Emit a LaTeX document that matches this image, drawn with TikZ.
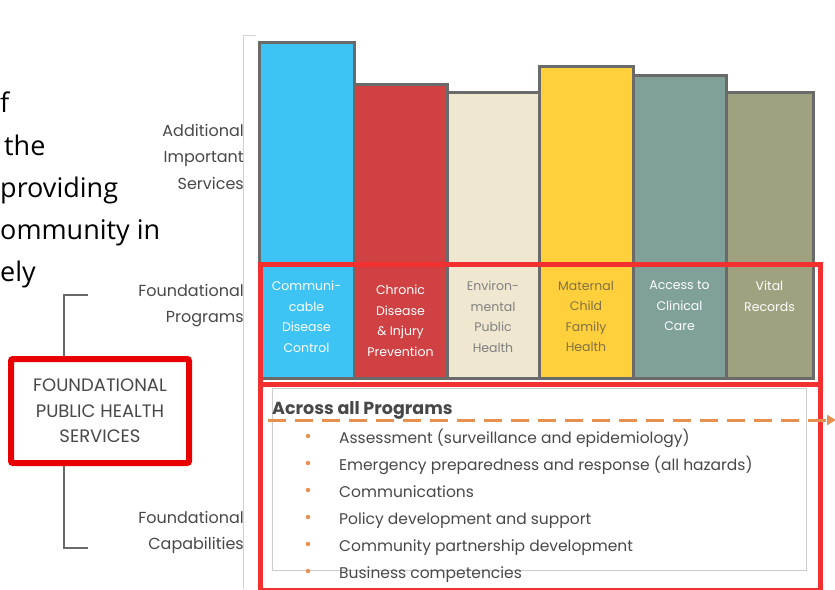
\documentclass[tikz,border=0pt]{standalone}
\usepackage{fontspec}
\setmainfont{Poppins}
\newfontfamily\parafont{Open Sans}
\usetikzlibrary{arrows.meta}

\definecolor{commblue}{HTML}{3EC4F4}
\definecolor{chronred}{HTML}{D04143}
\definecolor{envbeige}{HTML}{F0E7D1}
\definecolor{matyellow}{HTML}{FFD03C}
\definecolor{clinteal}{HTML}{80A199}
\definecolor{vitolive}{HTML}{A0A27F}
\definecolor{barline}{HTML}{6A6A6A}
\definecolor{framered}{HTML}{F23030}
\definecolor{boxred}{HTML}{E80000}
\definecolor{dashorange}{HTML}{E8904F}
\definecolor{labelgray}{HTML}{484848}

\begin{document}
\begin{tikzpicture}[x=1pt,y=-1pt,
	bar/.style={draw=barline,line width=3pt,inner sep=0,outer sep=0,anchor=north west},
	barlabel/.style={anchor=north,inner sep=0,align=center,font=\fontsize{12.5}{20.5}\selectfont},
	sidelabel/.style={anchor=north east,inner sep=0,align=right,text=labelgray,font=\fontsize{16}{26.5}\selectfont},
	item/.style={anchor=base west,inner sep=0,text=labelgray,font=\fontsize{15.5}{18}\selectfont},
	para/.style={anchor=base west,inner sep=0,font=\parafont\fontsize{27}{30}\selectfont},
	redframe/.style={draw=framered,line width=5pt,inner sep=0,anchor=north west},
	dot/.style={circle,fill=dashorange,inner sep=0,minimum size=4.5pt}]
	\useasboundingbox (0,0) rectangle (835,589);
	\draw[gray!35,line width=1pt] (256,35) -- (243,35) -- (243,589);
	\node[para] (p1) at (0,112) {f};
	\node[para] (p2) at (4,155) {the};
	\node[para] (p3) at (0,197) {providing};
	\node[para] (p4) at (0,239) {ommunity in};
	\node[para] (p5) at (0,281) {ely};
	\node[bar,fill=commblue,minimum width=95pt,minimum height=336pt] (cd) at (259,42) {};
	\node[bar,fill=chronred,minimum width=93pt,minimum height=294pt] (ch) at (354,84) {};
	\node[bar,fill=envbeige,minimum width=92pt,minimum height=286pt] (eh) at (447,92) {};
	\node[bar,fill=matyellow,minimum width=94pt,minimum height=312pt] (mh) at (539,66) {};
	\node[bar,fill=clinteal,minimum width=93pt,minimum height=303pt] (cc) at (633,75) {};
	\node[bar,fill=vitolive,minimum width=87pt,minimum height=286pt] (vr) at (726,92) {};
	\node[barlabel,text=white] (cdt) at ([yshift=97pt]cd.south) {Communi-\\cable\\Disease\\Control};
	\node[barlabel,text=white] (cht) at ([yshift=93pt]ch.south) {Chronic\\Disease\\\& Injury\\Prevention};
	\node[barlabel,text=gray] (eht) at ([yshift=97pt]eh.south) {Environ-\\mental\\Public\\Health};
	\node[barlabel,text=black!50!matyellow!60!gray] (mht) at ([yshift=97pt]mh.south) {Maternal\\Child\\Family\\Health};
	\node[barlabel,text=white] (cct) at ([yshift=97pt]cc.south) {Access to\\Clinical\\Care};
	\node[barlabel,text=white] (vrt) at ([yshift=97pt]vr.south) {Vital\\Records};
	\draw[barline,line width=2pt] (cd.south west) -- (vr.south east);
	\node[draw=gray!40,fill=white,inner sep=0,anchor=north west,minimum width=534pt,minimum height=182pt] (capbox) at (272,388) {};
	\node[redframe,minimum width=560pt,minimum height=120pt] (progframe) at (258,262) {};
	\node[redframe,minimum width=560pt,minimum height=206pt] (capframe) at (258,382) {};
	\node[anchor=base west,inner sep=0,text=labelgray,font=\bfseries\fontsize{17.5}{19}\selectfont] (across) at (272,414) {Across all Programs};
	\coordinate (dstart) at (268,420);
	\coordinate (dend) at (836,420);
	\draw[dashorange,line width=3pt,dash pattern=on 18pt off 9pt,-{Triangle[length=9pt,width=10pt]}] (dstart) -- (dend);
	\node[item] (c1) at (339,443) {Assessment (surveillance and epidemiology)};
	\node[item] (c2) at (339,470) {Emergency preparedness and response (all hazards)};
	\node[item] (c3) at (339,497) {Communications};
	\node[item] (c4) at (339,524) {Policy development and support};
	\node[item] (c5) at (339,551) {Community partnership development};
	\node[item] (c6) at (339,578) {Business competencies};
	\node[dot] (d1) at (308,436) {};
	\node[dot] (d2) at (308,463) {};
	\node[dot] (d3) at (308,490) {};
	\node[dot] (d4) at (308,517) {};
	\node[dot] (d5) at (308,544) {};
	\node[dot] (d6) at (308,571) {};
	\node[sidelabel] (ais) at (244,124) {Additional\\Important\\Services};
	\node[sidelabel] (fp) at (244,284) {Foundational\\Programs};
	\node[sidelabel] (fc) at (244,511) {Foundational\\Capabilities};
	\coordinate (bt) at (88,295);
	\coordinate (bb) at (88,548);
	\draw[barline,line width=2.5pt] (bt) -- ++(-24,0) |- (bb);
	\node[draw=boxred,line width=6pt,fill=white,rounded corners=2pt,minimum width=178pt,minimum height=104pt,align=center,text=labelgray,font=\fontsize{18}{25.5}\selectfont] (fphs) at (100,411) {FOUNDATIONAL\\PUBLIC HEALTH\\SERVICES};
\end{tikzpicture}
\end{document}
